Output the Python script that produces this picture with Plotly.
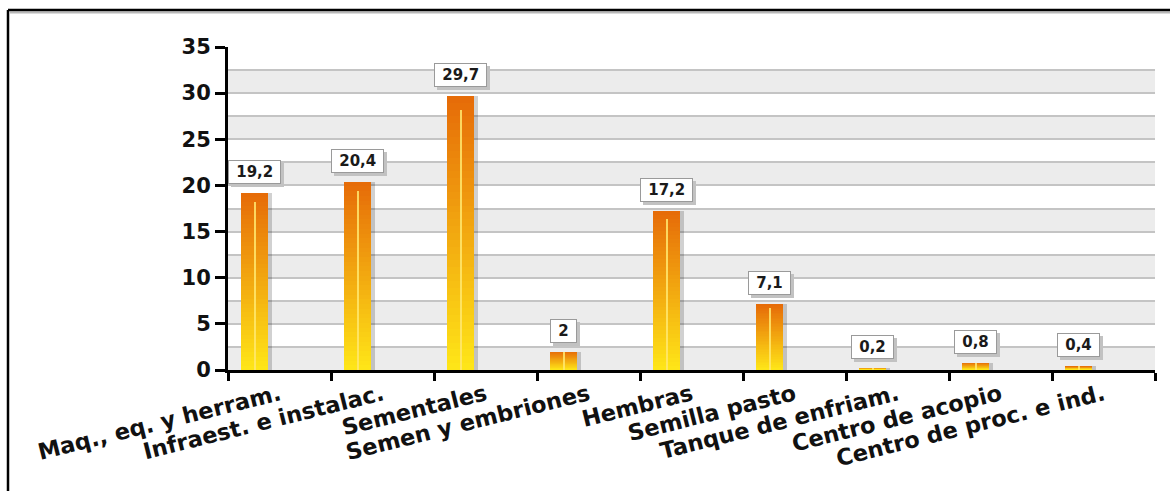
import plotly.graph_objects as go

# Categories and values (percent)
categories = [
    "Maq., eq. y herram.",
    "Infraest. e instalac.",
    "Sementales",
    "Semen y embriones",
    "Hembras",
    "Semilla pasto",
    "Tanque de enfriam.",
    "Centro de acopio",
    "Centro de proc. e ind.",
]
values = [19.2, 20.4, 29.7, 2, 17.2, 7.1, 0.2, 0.8, 0.4]
y_ticks = [0, 5, 10, 15, 20, 25, 30, 35]

W, H = 1170, 491
ML, MR, MT, MB = 228, 15, 47, 121
PW, PH = W - ML - MR, H - MT - MB
CAT_PX = PW / len(categories)

BAR_W = 27 / CAT_PX          # bar width in category units
BAR_SHIFT = -25 / CAT_PX     # bars sit left of the category centre
BAR_OFF = BAR_SHIFT - BAR_W / 2

FONT = "DejaVu Sans"
TOP = (230, 108, 8)
BOTTOM = (255, 232, 24)
N_STEPS = 40
NBSP = "\u00a0"


def mix(t):
    r, g, b = (round(BOTTOM[i] + (TOP[i] - BOTTOM[i]) * t) for i in range(3))
    return f"rgb({r},{g},{b})"


def label(v):
    return f"{v:g}".replace(".", ",")


def blank_like(s):
    # in DejaVu Sans Bold a digit is as wide as two no-break spaces
    return "".join(NBSP * (2 if ch.isdigit() else 1) for ch in s)


fig = go.Figure()

# soft shadow at the right of each bar
fig.add_trace(go.Bar(
    x=categories, y=values, width=BAR_W, offset=BAR_OFF + 4 / CAT_PX,
    marker=dict(color="rgba(0,0,0,0.18)", line=dict(width=0)),
    hoverinfo="skip", showlegend=False,
))

# vertical gradient: stacked overlays, orange at the top fading to yellow
for k in range(N_STEPS):
    frac = 1 - k / N_STEPS
    fig.add_trace(go.Bar(
        x=categories, y=[v * frac for v in values], width=BAR_W, offset=BAR_OFF,
        marker=dict(color=mix(frac), line=dict(width=0)),
        hoverinfo="skip", showlegend=False,
    ))

# light highlight running down the middle of each bar
fig.add_trace(go.Bar(
    x=categories, y=[v * 0.95 for v in values], width=2 / CAT_PX,
    offset=BAR_SHIFT - 1 / CAT_PX,
    marker=dict(color="rgba(255,232,110,0.85)", line=dict(width=0)),
    hoverinfo="skip", showlegend=False,
))

# value labels in small framed boxes with a drop shadow
for c, v in zip(categories, values):
    txt = label(v)
    pad = NBSP
    common = dict(x=c, y=v, xref="x", yref="y", yanchor="bottom",
                  showarrow=False, borderpad=2, borderwidth=1)
    fig.add_annotation(text=pad + blank_like(txt) + pad,
                       xshift=-25 + 3, yshift=9 - 3,
                       bgcolor="#c2c2c2", bordercolor="#c2c2c2",
                       font=dict(family=FONT, size=15, weight="bold",
                                 color="#c2c2c2"), **common)
    fig.add_annotation(text=pad + txt + pad, xshift=-25, yshift=9,
                       bgcolor="white", bordercolor="#9a9a9a",
                       font=dict(family=FONT, size=15, weight="bold",
                                 color="#1a1a1a"), **common)

# alternating grey bands behind the grid
shapes = []
for lo in [i * 5 for i in range(7)]:
    shapes.append(dict(type="rect", xref="paper", yref="y", x0=0, x1=1,
                       y0=lo, y1=lo + 2.5, fillcolor="#ececec",
                       line=dict(width=0), layer="below"))

# outer frame (left and top edges)
fx = (8 - ML) / PW
fy = 1 + (MT - 10) / PH
fb = -(MB + 10) / PH
fr = 1 + (MR + 10) / PW
shapes += [
    dict(type="line", xref="paper", yref="paper", x0=fx + 2 / PW, x1=fr,
         y0=fy - 2.5 / PH, y1=fy - 2.5 / PH, line=dict(color="#b8b8b8", width=2)),
    dict(type="line", xref="paper", yref="paper", x0=fx, x1=fr, y0=fy, y1=fy,
         line=dict(color="black", width=2.5)),
    dict(type="line", xref="paper", yref="paper", x0=fx, x1=fx, y0=fb, y1=fy,
         line=dict(color="black", width=2.5)),
]

fig.update_layout(
    width=W, height=H,
    margin=dict(l=ML, r=MR, t=MT, b=MB, pad=0),
    paper_bgcolor="white", plot_bgcolor="white",
    barmode="overlay", bargap=0,
    showlegend=False, shapes=shapes,
    font=dict(family=FONT, color="#111"),
)

fig.update_xaxes(
    type="category", categoryorder="array", categoryarray=categories,
    range=[-0.5, len(categories) - 0.5],
    tickson="boundaries", ticks="outside", ticklen=8, tickwidth=3,
    tickcolor="black", showline=True, linewidth=3, linecolor="black",
    tickangle=-14, showgrid=False,
    tickfont=dict(family=FONT, size=22.5, weight="bold", color="#111"),
)

fig.update_yaxes(
    range=[0, 35], tickvals=y_ticks, ticks="outside", ticklen=10, tickwidth=3,
    tickcolor="black", showline=True, linewidth=3, linecolor="black",
    showgrid=True, gridcolor="#c4c4c4", gridwidth=1.5, zeroline=False,
    minor=dict(dtick=2.5, showgrid=True, gridcolor="#c4c4c4", gridwidth=1.5),
    tickfont=dict(family=FONT, size=21, weight="bold", color="#111"),
)

fig.write_html("out.html")
